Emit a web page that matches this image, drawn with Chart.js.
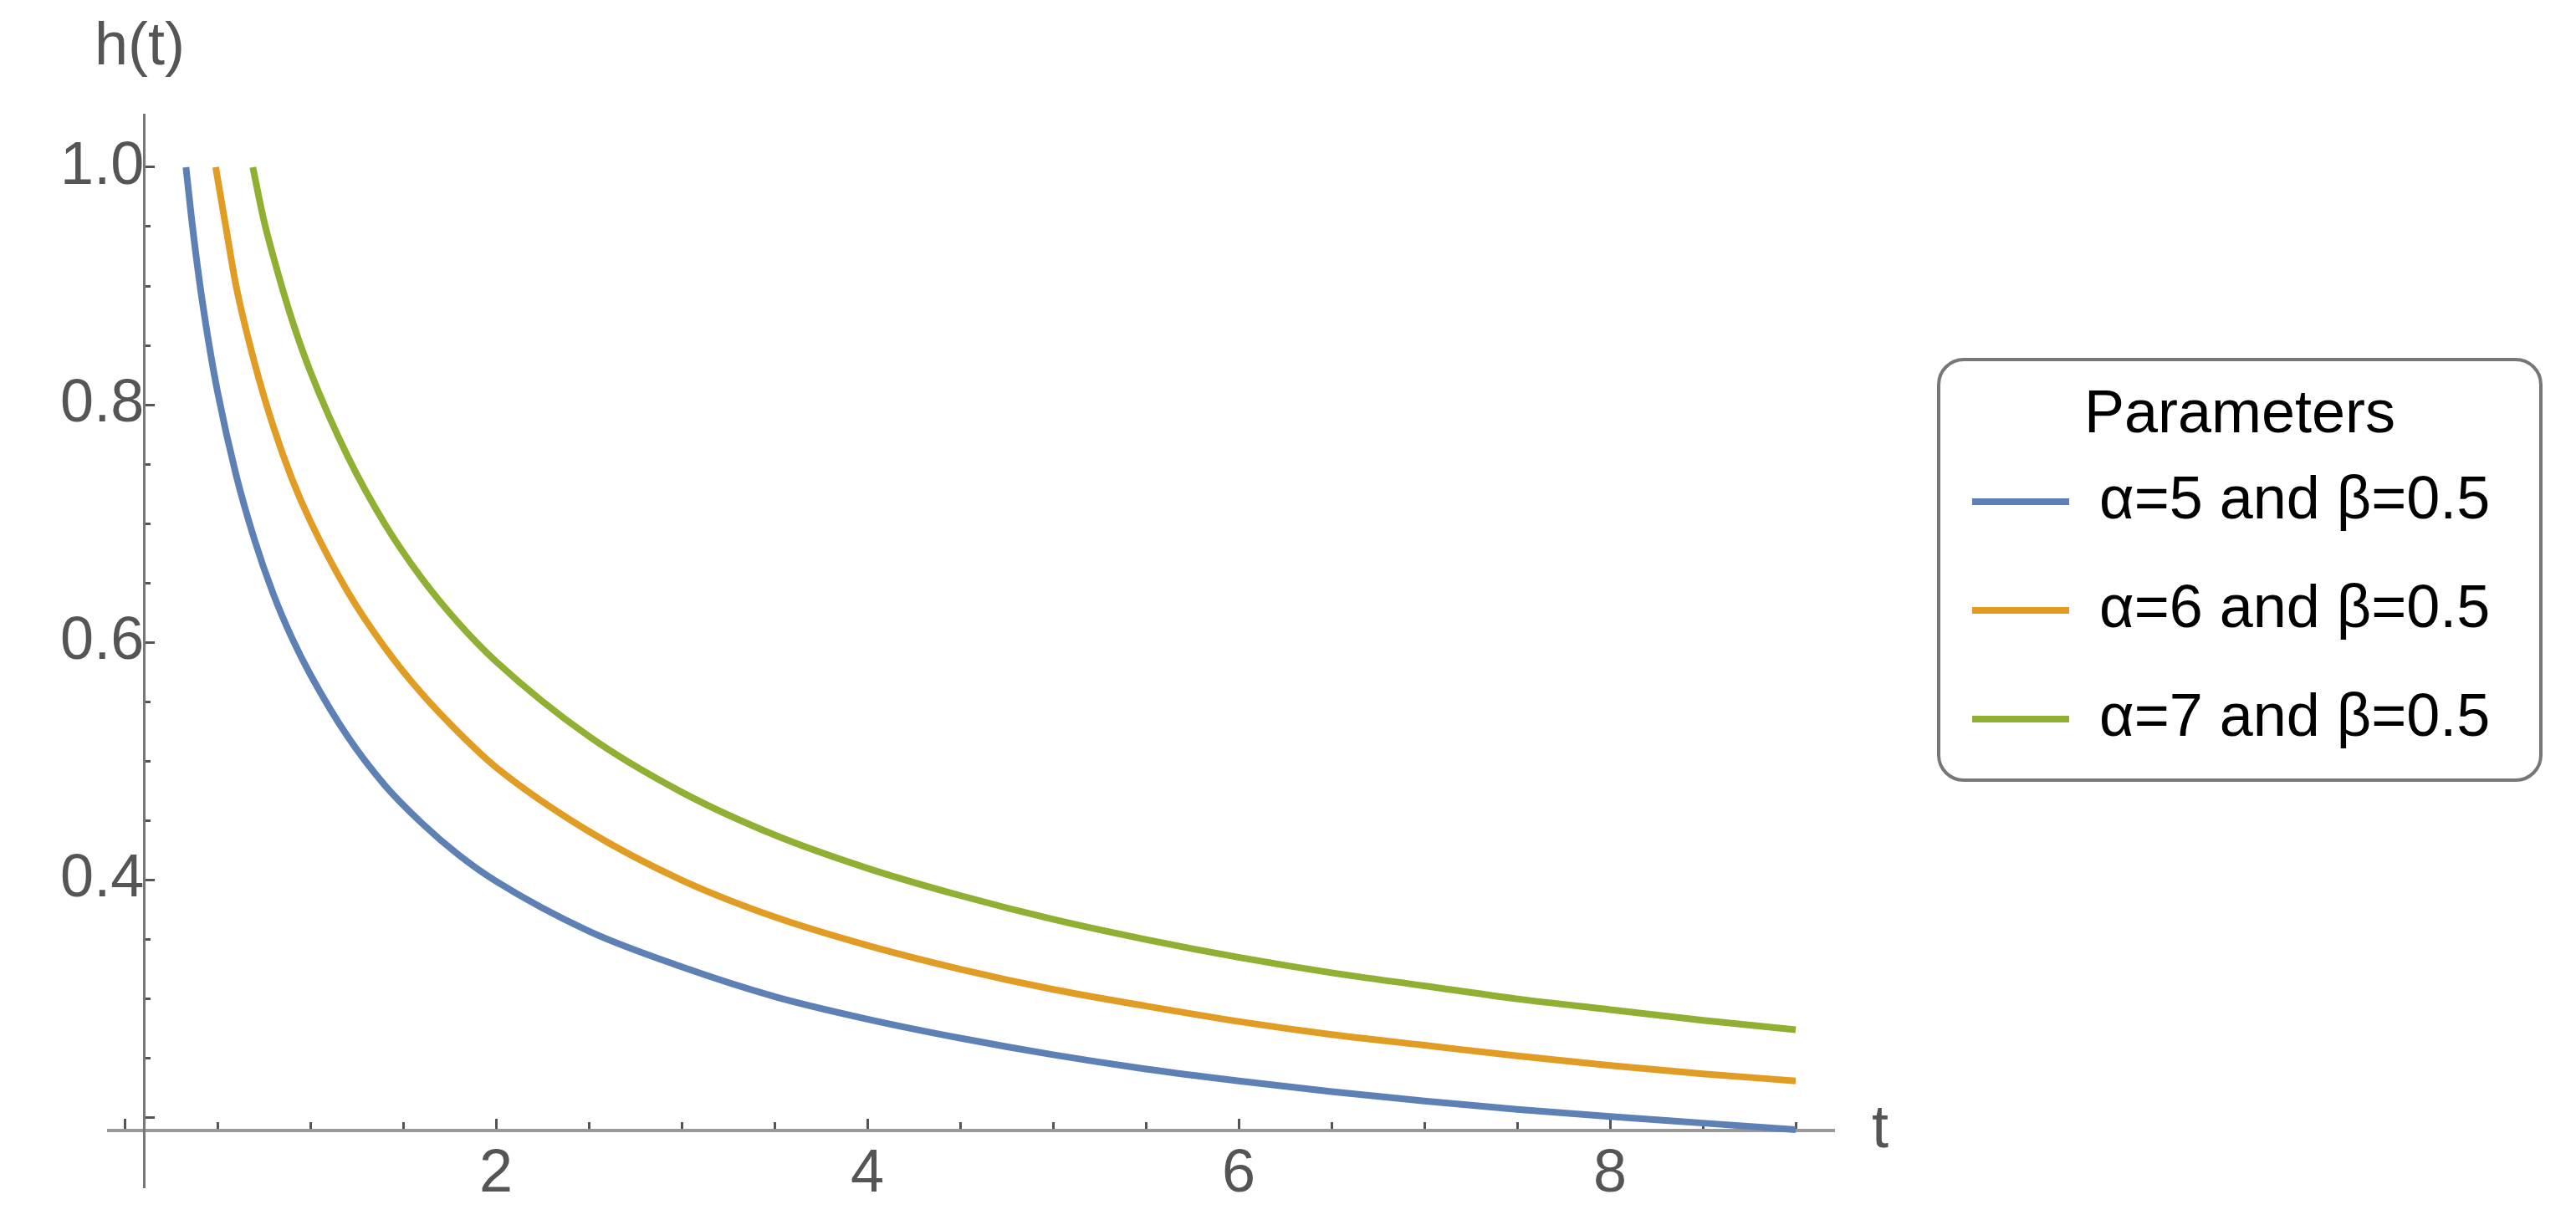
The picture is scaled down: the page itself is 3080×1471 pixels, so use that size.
<!DOCTYPE html>
<html>
<head>
<meta charset="utf-8">
<script src="https://cdn.jsdelivr.net/npm/chart.js@4.4.1/dist/chart.umd.min.js"></script>
<style>
  html, body { margin: 0; padding: 0; background: #fff; }
  canvas { display: block; }
</style>
</head>
<body>
<canvas id="chart" width="3080" height="1471"></canvas>
<script>
// valores
const blueT = [0.33, 0.36, 0.4, 0.45, 0.5, 0.6, 0.7, 0.8, 0.9, 1.0, 1.2, 1.4, 1.6, 1.8, 2.0, 2.5, 3.0, 3.5, 4.0, 4.5, 5.0, 5.5, 6.0, 6.5, 7.0, 7.5, 8.0, 8.5, 9.0];
const blueH = [1.00, 0.957, 0.907, 0.855, 0.811, 0.741, 0.686, 0.641, 0.604, 0.573, 0.521, 0.480, 0.448, 0.421, 0.399, 0.357, 0.327, 0.302, 0.283, 0.267, 0.253, 0.241, 0.231, 0.222, 0.214, 0.207, 0.201, 0.1955, 0.190];

const orangeT = [0.49, 0.55, 0.6, 0.7, 0.8, 0.9, 1.0, 1.2, 1.4, 1.6, 1.8, 2.0, 2.5, 3.0, 3.5, 4.0, 4.5, 5.0, 5.5, 6.0, 6.5, 7.0, 7.5, 8.0, 8.5, 9.0];
const orangeH = [1.00, 0.945, 0.900, 0.835, 0.782, 0.738, 0.702, 0.643, 0.596, 0.557, 0.524, 0.495, 0.441, 0.400, 0.369, 0.345, 0.325, 0.308, 0.294, 0.281, 0.270, 0.261, 0.252, 0.244, 0.237, 0.231];

const greenT = [0.69, 0.75, 0.8, 0.9, 1.0, 1.2, 1.4, 1.6, 1.8, 2.0, 2.5, 3.0, 3.5, 4.0, 4.5, 5.0, 5.5, 6.0, 6.5, 7.0, 7.5, 8.0, 8.5, 9.0];
const greenH = [1.00, 0.955, 0.925, 0.872, 0.828, 0.757, 0.700, 0.654, 0.616, 0.584, 0.521, 0.474, 0.438, 0.410, 0.387, 0.367, 0.350, 0.335, 0.322, 0.311, 0.300, 0.291, 0.282, 0.274];

const seriesNames = ['α=5 and β=0.5', 'α=6 and β=0.5', 'α=7 and β=0.5'];

const xMajorTicks = [0, 2, 4, 6, 8];
const xTickLabels = ['', '2', '4', '6', '8'];
const xMinorTicks = [0.5, 1, 1.5, 2.5, 3, 3.5, 4.5, 5, 5.5, 6.5, 7, 7.5, 8.5, 9];
const yMajorTicks = [0.2, 0.4, 0.6, 0.8, 1.0];
const yTickLabels = ['', '0.4', '0.6', '0.8', '1.0'];
const yMinorTicks = [0.25, 0.3, 0.35, 0.45, 0.5, 0.55, 0.65, 0.7, 0.75, 0.85, 0.9, 0.95];

const FONT = '"Liberation Sans", Arial, sans-serif';
const cores = ['#5E81B5', '#E19C24', '#8FB032'];

function pontos(ts, hs) {
    return ts.map((t, i) => ({ x: t, y: hs[i] }));
}

function serie(nome, ts, hs, cor) {
    return {
        label: nome,
        data: pontos(ts, hs),
        borderColor: cor,
        backgroundColor: cor,
        borderWidth: 8,
        pointRadius: 0,
        fill: false,
        cubicInterpolationMode: 'monotone'
    };
}

// eixos posicionados no meio nao devem ocupar espaco no layout
function semEspaco(s) {
    if (s.isHorizontal()) s.height = 0; else s.width = 0;
    s.paddingLeft = 0;
    s.paddingRight = 0;
    s.paddingTop = 0;
    s.paddingBottom = 0;
}

// caixa da legenda e rótulos dos eixos
const moldura = {
    id: 'moldura',
    afterLayout(chart) {
        const lg = chart.legend;
        lg.left = 2300;
        lg.top = 461;
        lg.width = 756;
        lg.right = lg.left + lg.width;
        lg.height = 640;
        lg.bottom = lg.top + lg.height;
    },
    afterDraw(chart) {
        const ctx = chart.ctx;
        ctx.save();
        ctx.strokeStyle = '#777';
        ctx.lineWidth = 4;
        ctx.beginPath();
        ctx.roundRect(2318, 430, 720, 503, 30);
        ctx.stroke();
        ctx.fillStyle = '#555';
        ctx.font = '72px ' + FONT;
        ctx.textBaseline = 'alphabetic';
        ctx.fillText('h(t)', 113, 77);
        ctx.fillText('t', 2238, 1372);
        ctx.restore();
    }
};

const eixoX = { y: 0.189 };
const eixoY = { x: 0.104 };
const X_MIN = -0.086, X_MAX = 9.207;
const Y_MIN = 0.1414, Y_MAX = 1.0443;

const ctx = document.getElementById('chart').getContext('2d');
const chart = new Chart(ctx, {
    type: 'line',
    data: {
        datasets: [
            serie(seriesNames[0], blueT, blueH, cores[0]),
            serie(seriesNames[1], orangeT, orangeH, cores[1]),
            serie(seriesNames[2], greenT, greenH, cores[2])
        ]
    },
    options: {
        responsive: false,
        animation: false,
        devicePixelRatio: 1,
        layout: { padding: { left: 130, right: 887, top: 137, bottom: 51 } },
        plugins: {
            tooltip: { enabled: false },
            legend: {
                position: 'chartArea',
                align: 'start',
                title: {
                    display: true,
                    text: 'Parameters',
                    color: '#000',
                    font: { family: FONT, size: 72, lineHeight: 1 },
                    padding: { top: 0, bottom: -27 }
                },
                labels: {
                    color: '#000',
                    font: { family: FONT, size: 72 },
                    boxWidth: 116,
                    boxHeight: 8,
                    padding: 58,
                    generateLabels(chart) {
                        const itens = Chart.defaults.plugins.legend.labels.generateLabels(chart);
                        itens.forEach(it => { it.lineWidth = 0; });
                        return itens;
                    }
                }
            }
        },
        scales: {
            x: {
                type: 'linear', axis: 'x', min: X_MIN, max: X_MAX,
                position: eixoX,
                afterFit: semEspaco,
                afterBuildTicks: s => { s.ticks = xMajorTicks.map(v => ({ value: v })); },
                ticks: {
                    callback: (v, i) => xTickLabels[i],
                    color: '#555', font: { family: FONT, size: 72 },
                    padding: 26, autoSkip: false, maxRotation: 0, minRotation: 0
                },
                grid: { drawOnChartArea: false, tickLength: -16, tickWidth: 3, tickColor: '#555' },
                border: { color: '#999', width: 4 }
            },
            xMinor: {
                type: 'linear', axis: 'x', min: X_MIN, max: X_MAX,
                position: eixoX,
                afterFit: semEspaco,
                afterBuildTicks: s => { s.ticks = xMinorTicks.map(v => ({ value: v })); },
                ticks: { display: false },
                grid: { drawOnChartArea: false, tickLength: -10, tickWidth: 3, tickColor: '#555' },
                border: { display: false }
            },
            y: {
                type: 'linear', axis: 'y', min: Y_MIN, max: Y_MAX,
                position: eixoY,
                afterFit: semEspaco,
                afterBuildTicks: s => { s.ticks = yMajorTicks.map(v => ({ value: v })); },
                ticks: {
                    callback: (v, i) => yTickLabels[i],
                    color: '#555', font: { family: FONT, size: 72 },
                    padding: 39, autoSkip: false
                },
                grid: { drawOnChartArea: false, tickLength: -14, tickWidth: 3, tickColor: '#555' },
                border: { color: '#777', width: 3 }
            },
            yMinor: {
                type: 'linear', axis: 'y', min: Y_MIN, max: Y_MAX,
                position: eixoY,
                afterFit: semEspaco,
                afterBuildTicks: s => { s.ticks = yMinorTicks.map(v => ({ value: v })); },
                ticks: { display: false },
                grid: { drawOnChartArea: false, tickLength: -8, tickWidth: 3, tickColor: '#555' },
                border: { display: false }
            }
        }
    },
    plugins: [moldura]
});
</script>
</body>
</html>
